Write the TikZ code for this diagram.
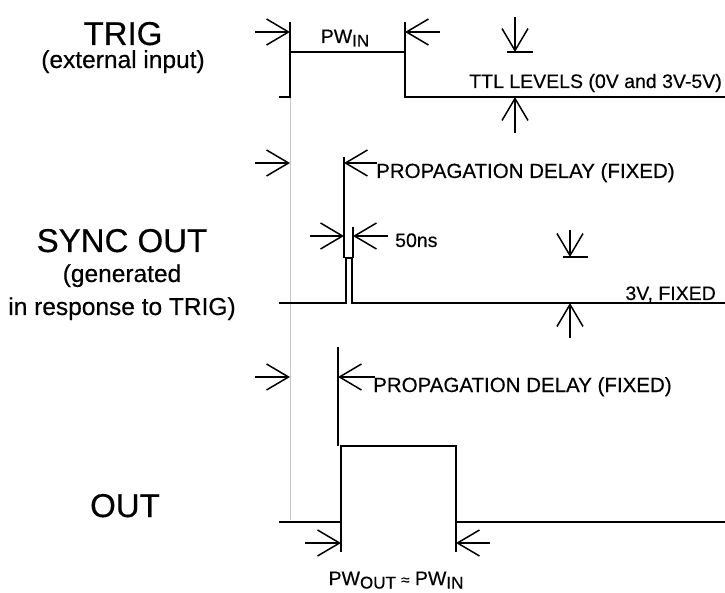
\documentclass[tikz,border=0pt]{standalone}
\usepackage{fontspec}
\setmainfont{Liberation Sans}[FakeBold=0.4]
\usepackage{xcolor}
\usepackage{tikz}
\usetikzlibrary{arrows.meta}

\newcommand{\pwlow}[1]{{\fontsize{17}{17}\selectfont\raisebox{-3.5pt}{#1}}}

\tikzset{
  wave/.style={line width=2.6pt, line join=miter},
  tickline/.style={line width=1.5pt},
  dimarrow/.style={line width=1.5pt, -{Straight Barb[length=22pt,width=26pt]}},
  biglabel/.style={anchor=base, inner sep=0pt, font=\fontsize{33}{36}\selectfont},
  sublabel/.style={anchor=base, inner sep=0pt, font=\fontsize{24.5}{26}\selectfont},
  note/.style={anchor=base west, inner sep=0pt, font=\fontsize{19.5}{22}\selectfont},
}

\begin{document}
\begin{tikzpicture}[x=1pt, y=-1pt]
                \useasboundingbox (0,0) rectangle (725,593);
                \draw[gray!45, line width=0.8pt] (290,97) -- (290,520);

                \node[biglabel] (trig) at (123,45) {TRIG};
                \node[sublabel] (trigsub) at (123,68) {(external input)};
                \node[biglabel] (sync) at (122,252) {SYNC OUT};
                \node[sublabel] (syncsub) at (122,282) {(generated};
                \node[sublabel] (syncsubb) at (122,315) {in response to TRIG)};
                \node[biglabel] (out) at (125,517) {OUT};

                \draw[wave] (279,97) -- (290,97) -- (290,52)
                    -- (405,52) -- (405,97) -- (725,97);
                \draw[wave] (279,303) -- (346,303) -- (346,258)
                    -- (352,258) -- (352,303) -- (725,303);
                \draw[wave] (279,522) -- (341,522) -- (341,446)
                    -- (456,446) -- (456,522) -- (725,522);

                \draw[tickline] (290,22) -- (290,52);
                \draw[tickline] (405,22) -- (405,52);
                \draw[tickline] (344,157) -- (344,258);
                \draw[tickline] (353,227) -- (353,258);
                \draw[tickline] (338,347) -- (338,446);
                \draw[tickline] (341,522) -- (341,552);
                \draw[tickline] (456,522) -- (456,552);
                \draw[tickline] (507,52) -- (533,52);
                \draw[tickline] (563,257) -- (588,257);

                \draw[dimarrow] (255,32) -- (290,32);
                \draw[dimarrow] (440,32) -- (405,32);
                \draw[dimarrow] (515,17) -- (515,52);
                \draw[dimarrow] (515,133) -- (515,97);
                \draw[dimarrow] (255,163) -- (290,163);
                \draw[dimarrow] (377,163) -- (344,163);
                \draw[dimarrow] (310,236) -- (344,236);
                \draw[dimarrow] (388,236) -- (353,236);
                \draw[dimarrow] (570,230) -- (570,257);
                \draw[dimarrow] (570,338) -- (570,303);
                \draw[dimarrow] (255,377) -- (290,377);
                \draw[dimarrow] (375,377) -- (338,377);
                \draw[dimarrow] (305,543) -- (341,543);
                \draw[dimarrow] (490,543) -- (456,543);

                \node[note, anchor=base] (pwin) at (345,43) {PW\pwlow{IN}};
                \node[note, anchor=base east] (ttl) at (722,88) {TTL LEVELS (0V and 3V-5V)};
                \node[note, font=\fontsize{20.5}{22}\selectfont] (propa) at (376,178) {PROPAGATION DELAY (FIXED)};
                \node[note] (ns) at (395,247) {50ns};
                \node[note, anchor=base east] (fixed) at (716,300) {3V, FIXED};
                \node[note, font=\fontsize{20.5}{22}\selectfont] (propb) at (373,392) {PROPAGATION DELAY (FIXED)};
                \node[note, anchor=base] (pwout) at (396,585)
                    {PW\pwlow{OUT} {\fontsize{15}{15}\selectfont ≈} PW\pwlow{IN}};
            \end{tikzpicture}
\end{document}
